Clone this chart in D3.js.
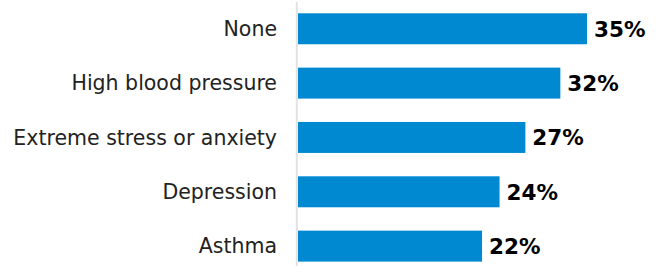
<!DOCTYPE html>
<meta charset="utf-8">
<html lang="en">
<head>
<title>Health conditions</title>
<script src="https://d3js.org/d3.v7.min.js"></script>
<style>
  body { margin: 0; background: #fff; }
  svg { display: block; }
  .cat { font-family: "DejaVu Sans", sans-serif; font-size: 20.5px; fill: #222; }
  .val { font-family: "DejaVu Sans", sans-serif; font-size: 21.5px; font-weight: 700; fill: #000; }
</style>
</head>
<body>
<div id="chart"></div>
<script>
// data
var categories = ["None", "High blood pressure", "Extreme stress or anxiety", "Depression", "Asthma"];
var values = [34.7, 31.5, 27.3, 24.2, 22.1];
var labels = ["35%", "32%", "27%", "24%", "22%"];

var width = 658, height = 266;
var left = 298;

var svg = d3.select("#chart").append("svg")
    .attr("width", width)
    .attr("height", height);

var x = d3.scaleLinear().domain([0, 35]).range([left, left + 291.5]);
var y = d3.scaleBand().domain(categories)
    .range([1.6, 273.3])
    .paddingInner(0.43)
    .paddingOuter(0.215);

// axis line
svg.append("line")
    .attr("x1", left - 1.2).attr("x2", left - 1.2)
    .attr("y1", 2).attr("y2", height)
    .style("stroke", "#e2e2e2")
    .style("stroke-width", 2);

var rows = svg.selectAll("g.row")
    .data(categories)
    .enter().append("g")
    .attr("class", "row");

rows.append("rect")
    .attr("x", x(0))
    .attr("y", function(d) { return y(d); })
    .attr("width", function(d, i) { return x(values[i]) - x(0); })
    .attr("height", y.bandwidth())
    .style("fill", "#0089d1");

rows.append("text")
    .attr("class", "cat")
    .attr("x", 277)
    .attr("y", function(d) { return y(d) + y.bandwidth() / 2; })
    .attr("dy", "0.35em")
    .attr("text-anchor", "end")
    .text(function(d) { return d; });

rows.append("text")
    .attr("class", "val")
    .attr("x", function(d, i) { return x(values[i]) + 7; })
    .attr("y", function(d) { return y(d) + y.bandwidth() / 2; })
    .attr("dy", "0.36em")
    .text(function(d, i) { return labels[i]; });
</script>
</body>
</html>
